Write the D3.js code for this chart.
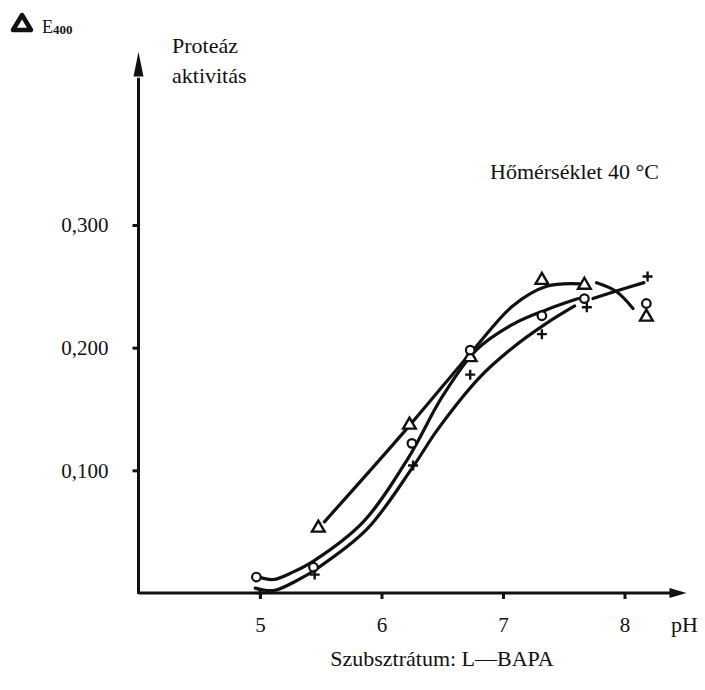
<!DOCTYPE html>
<html>
<head>
<meta charset="utf-8">
<script src="https://cdn.jsdelivr.net/npm/d3@7"></script>
<style>
  body { margin: 0; background: #fff; }
  svg text { fill: #111; }
</style>
</head>
<body>
<svg id="chart" width="705" height="690"></svg>
<script>
// measured points (pH, delta E400)
const triangleData = [[5.48, 0.053], [6.23, 0.137], [6.73, 0.192], [7.32, 0.255], [7.67, 0.251], [8.18, 0.225]];
const circleData = [[4.97, 0.013], [5.44, 0.021], [6.25, 0.122], [6.73, 0.198], [7.32, 0.226], [7.67, 0.240], [8.18, 0.236]];
const crossData = [[5.0, 0.0], [5.45, 0.015], [6.26, 0.104], [6.73, 0.178], [7.32, 0.211], [7.69, 0.233], [8.19, 0.258]];

// hand drawn fitted curves
const triangleFit = [[5.53, 0.058], [6.2, 0.133], [6.78, 0.201], [7.08, 0.234], [7.36, 0.250], [7.63, 0.252]];
const triangleFitEnd = [[7.77, 0.253], [7.93, 0.246], [8.07, 0.232]];
const circleFit = [[4.99, 0.013], [5.11, 0.011], [5.27, 0.017], [5.44, 0.026], [5.85, 0.058], [6.22, 0.110], [6.5, 0.160], [6.78, 0.198], [7.08, 0.219], [7.36, 0.231], [7.62, 0.240]];
const crossFit = [[4.96, 0.004], [5.11, 0.002], [5.3, 0.010], [5.47, 0.020], [5.88, 0.052], [6.26, 0.103], [6.46, 0.133], [6.81, 0.176], [7.08, 0.200], [7.36, 0.220], [7.59, 0.234]];
const crossFitEnd = [[7.74, 0.240], [7.96, 0.247], [8.16, 0.253]];

const xTicks = [5, 6, 7, 8];
const yTicks = [0.1, 0.2, 0.3];

const svg = d3.select("#chart");
const serif = "'Liberation Serif', 'Times New Roman', serif";

const x = d3.scaleLinear().domain([4, 8]).range([138.5, 624.5]);
const y = d3.scaleLinear().domain([0, 0.3]).range([593, 225]);

const ink = "#111";

//axes lines
svg.append("line")
    .attr("x1", x(4)).attr("x2", x(8.45))
    .attr("y1", y(0)).attr("y2", y(0))
    .attr("stroke", ink).attr("stroke-width", 3);
svg.append("line")
    .attr("x1", x(4)).attr("x2", x(4))
    .attr("y1", y(0) + 1).attr("y2", y(0.42))
    .attr("stroke", ink).attr("stroke-width", 3);

//arrow heads
svg.append("path")
    .attr("d", `M${x(4)},${y(0.441)} L${x(4) - 5},${y(0.421)} L${x(4) + 5},${y(0.421)} Z`)
    .attr("fill", ink);
svg.append("path")
    .attr("d", `M${x(8.51)},${y(0)} L${x(8.51) - 17},${y(0) - 5} L${x(8.51) - 17},${y(0) + 5} Z`)
    .attr("fill", ink);

//ticks
const yAxis = d3.axisLeft(y)
    .tickValues(yTicks)
    .tickSize(6)
    .tickPadding(24)
    .tickFormat(d => d3.format(".3f")(d).replace(".", ","));
const yAxisG = svg.append("g")
    .attr("transform", `translate(${x(4)},0)`)
    .call(yAxis)
    .attr("font-family", serif)
    .attr("font-size", 21);
yAxisG.select(".domain").remove();
yAxisG.selectAll("line").attr("stroke", ink).attr("stroke-width", 3);
yAxisG.selectAll("text").attr("fill", ink);

const xAxis = d3.axisBottom(x)
    .tickValues(xTicks)
    .tickSize(6)
    .tickPadding(18)
    .tickFormat(d3.format("d"));
const xAxisG = svg.append("g")
    .attr("transform", `translate(0,${y(0)})`)
    .call(xAxis)
    .attr("font-family", serif)
    .attr("font-size", 21);
xAxisG.select(".domain").remove();
xAxisG.selectAll("line").attr("stroke", ink).attr("stroke-width", 3);
xAxisG.selectAll("text").attr("fill", ink);

//curves
const line = d3.line()
    .x(d => x(d[0]))
    .y(d => y(d[1]))
    .curve(d3.curveCatmullRom.alpha(0.5));

[triangleFit, triangleFitEnd, circleFit, crossFit, crossFitEnd].forEach(c => {
    svg.append("path")
        .datum(c)
        .attr("d", line)
        .attr("fill", "none")
        .attr("stroke", ink)
        .attr("stroke-width", 3.2)
        .attr("stroke-linecap", "round");
});

//markers
svg.append("g").selectAll("path")
    .data(triangleData)
    .enter()
    .append("path")
    .attr("d", d3.symbol().type(d3.symbolTriangle).size(70))
    .attr("transform", d => `translate(${x(d[0])},${y(d[1])})`)
    .attr("fill", "#fff")
    .attr("stroke", ink)
    .attr("stroke-width", 2.4);

svg.append("g").selectAll("circle")
    .data(circleData)
    .enter()
    .append("circle")
    .attr("cx", d => x(d[0]))
    .attr("cy", d => y(d[1]))
    .attr("r", 4.3)
    .attr("fill", "#fff")
    .attr("stroke", ink)
    .attr("stroke-width", 2.2);

svg.append("g").selectAll("path")
    .data(crossData)
    .enter()
    .append("path")
    .attr("d", "M-5,0 H5 M0,-5 V5")
    .attr("transform", d => `translate(${x(d[0])},${y(d[1])})`)
    .attr("fill", "none")
    .attr("stroke", ink)
    .attr("stroke-width", 2.4);

//labels
const addText = (tx, ty, s, size, anchor) => svg.append("text")
    .attr("x", tx).attr("y", ty)
    .attr("font-family", serif)
    .attr("font-size", size)
    .attr("text-anchor", anchor || "start")
    .text(s);

const eLabel = svg.append("text")
    .attr("x", 42)
    .attr("y", 33)
    .attr("font-family", serif)
    .attr("font-size", 18);
eLabel.append("tspan").text("E");
eLabel.append("tspan").attr("dy", 1).attr("font-size", 13).attr("font-weight", "bold").text("400");

svg.append("path")
    .attr("d", "M22,15 L31,30 L13,30 Z")
    .attr("fill", "none")
    .attr("stroke", ink)
    .attr("stroke-width", 4.5)
    .attr("stroke-linejoin", "round");

addText(172, 53, "Proteáz", 22);
addText(172, 83, "aktivitás", 22);
addText(490, 179, "Hőmérséklet 40 °C", 22);
addText(671, 632, "pH", 22);
addText(442, 666, "Szubsztrátum: L—BAPA", 22, "middle");
</script>
</body>
</html>
